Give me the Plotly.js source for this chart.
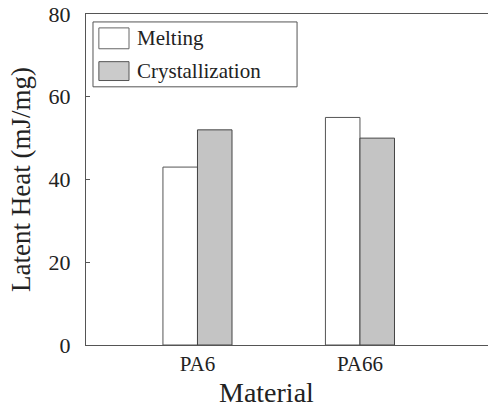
<!DOCTYPE html>
<html>
<head>
<meta charset="utf-8">
<script src="https://cdn.plot.ly/plotly-3.0.1.min.js"></script>
<style>html,body{margin:0;padding:0;background:#fff}#chart{width:489px;height:410px}</style>
</head>
<body>
<div id="chart"></div>
<script>
const categories = ["PA6", "PA66"];
const seriesNames = ["Melting", "Crystallization"];
const melting = [43, 55];
const crystallization = [52, 50];
const yTicks = [0, 20, 40, 60, 80];

const FONT = "'Liberation Serif', 'Times New Roman', serif";
const INK = "#222";

const traces = [
  {
    type: "bar", name: seriesNames[0], x: categories, y: melting,
    marker: {color: "#ffffff", line: {color: "#555", width: 1}},
    showlegend: false, hoverinfo: "skip"
  },
  {
    type: "bar", name: seriesNames[1], x: categories, y: crystallization,
    marker: {color: "#cccccc", line: {color: "#444", width: 1},
      pattern: {shape: ".", fgcolor: "#b2b2b2", bgcolor: "#d3d3d3", size: 2, solidity: 0.5}},
    showlegend: false, hoverinfo: "skip"
  }
];

// legend box drawn in paper coordinates
const lgX0 = 0.0174, lgX1 = 0.525, lgY1 = 0.976, lgY0 = 0.78;
const shapes = [
  {type: "rect", xref: "paper", yref: "paper", x0: lgX0, x1: lgX1, y0: lgY0, y1: lgY1,
   line: {color: "#555", width: 1}, fillcolor: "#fff"},
  {type: "rect", xref: "paper", yref: "paper", x0: 0.032, x1: 0.107, y0: 0.895, y1: 0.958,
   line: {color: "#666", width: 1}, fillcolor: "#fff"},
  {type: "rect", xref: "paper", yref: "paper", x0: 0.032, x1: 0.107, y0: 0.799, y1: 0.856,
   line: {color: "#555", width: 1}, fillcolor: "#cbcbcb"}
];
const annotations = [
  {xref: "paper", yref: "paper", x: 0.122, y: 0.926, xanchor: "left", yanchor: "middle",
   text: seriesNames[0], showarrow: false, font: {family: FONT, size: 21, color: INK}},
  {xref: "paper", yref: "paper", x: 0.122, y: 0.828, xanchor: "left", yanchor: "middle",
   text: seriesNames[1], showarrow: false, font: {family: FONT, size: 21, color: INK}},
  {xref: "paper", yref: "paper", x: 0.45, y: -0.145, xanchor: "center", yanchor: "middle",
   text: "Material", showarrow: false, font: {family: FONT, size: 28, color: INK}}
];

const layout = {
  width: 489, height: 410,
  margin: {l: 86, r: 1, t: 14, b: 65, pad: 0},
  paper_bgcolor: "#fff", plot_bgcolor: "#fff",
  barmode: "group", bargap: 0.575, bargroupgap: 0,
  font: {family: FONT, color: INK},
  showlegend: false,
  xaxis: {
    type: "category", range: [-0.686, 1.788],
    showline: true, linecolor: "#555", linewidth: 1, mirror: true,
    ticks: "", showgrid: false, zeroline: false,
    tickfont: {family: FONT, size: 21, color: INK}
  },
  yaxis: {
    range: [0, 80], tickvals: yTicks, ticktext: yTicks.map(String),
    showline: true, linecolor: "#555", linewidth: 1, mirror: false,
    ticks: "inside", ticklen: 4, tickcolor: "#555", ticklabelstandoff: 10,
    showgrid: false, zeroline: false,
    tickfont: {family: FONT, size: 22, color: INK},
    title: {text: "Latent Heat (mJ/mg)", font: {family: FONT, size: 27, color: INK}, standoff: 10}
  },
  shapes: shapes,
  annotations: annotations
};

Plotly.newPlot("chart", traces, layout, {staticPlot: true, displayModeBar: false});
</script>
</body>
</html>
